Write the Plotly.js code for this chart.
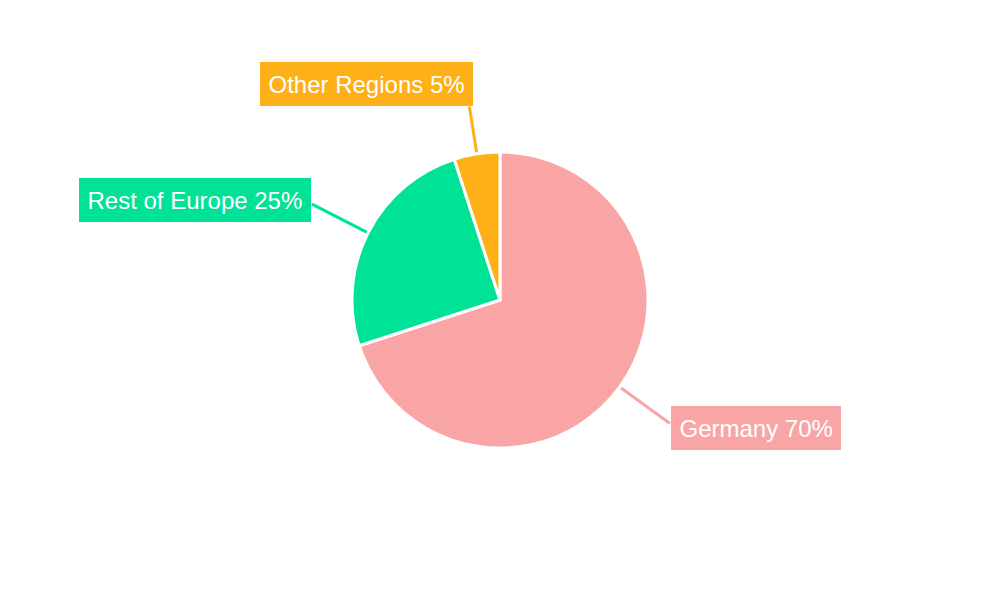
<!DOCTYPE html>
<html>
<head>
<meta charset="utf-8">
<script src="https://cdn.plot.ly/plotly-3.0.1.min.js"></script>
<style>html,body{margin:0;padding:0;background:#fff;}#chart{width:1000px;height:600px;}</style>
</head>
<body>
<div id="chart"></div>
<script>
const regions = ["Germany", "Rest of Europe", "Other Regions"];
const shares = [70, 25, 5];
const colors = ["#F9A5A6", "#00E396", "#FEB019"];

// layout constants (pixels)
const W = 1000, H = 600;
const domainY = [0.2533, 0.7467];
const cx = W / 2, cy = H * (1 - (domainY[0] + domainY[1]) / 2);
const R = Math.min(W, H * (domainY[1] - domainY[0])) / 2;
const leaderLen = [62, 63, 48];
const labelPos = [[756, 427.5], [195, 200], [366, 84]];

const total = shares.reduce((a, b) => a + b, 0);
let cum = 0;
const shapes = [], annotations = [];
shares.forEach((v, i) => {
  const mid = (cum + v / 2) / total * 2 * Math.PI;
  cum += v;
  const sx = Math.sin(mid), sy = -Math.cos(mid);
  const x0 = cx + R * sx, y0 = cy + R * sy;
  const x1 = cx + (R + leaderLen[i]) * sx, y1 = cy + (R + leaderLen[i]) * sy;
  shapes.push({
    type: 'line', xref: 'paper', yref: 'paper',
    x0: x0 / W, y0: 1 - y0 / H, x1: x1 / W, y1: 1 - y1 / H,
    line: {color: colors[i], width: 3}, layer: 'below'
  });
  annotations.push({
    xref: 'paper', yref: 'paper',
    x: labelPos[i][0] / W, y: 1 - labelPos[i][1] / H,
    xanchor: 'center', yanchor: 'middle',
    text: regions[i] + ' ' + v + '%',
    showarrow: false,
    bgcolor: colors[i], borderpad: 7.5, borderwidth: 1, bordercolor: colors[i],
    font: {family: 'Liberation Sans, Arial, sans-serif', size: 24, color: '#ffffff'}
  });
});

const data = [{
  type: 'pie',
  labels: regions,
  values: shares,
  sort: false,
  direction: 'clockwise',
  rotation: 0,
  textinfo: 'none',
  hoverinfo: 'label+percent',
  marker: {colors: colors, line: {color: '#ffffff', width: 3}},
  domain: {x: [0, 1], y: domainY},
  showlegend: false
}];

const layout = {
  width: W, height: H,
  margin: {l: 0, r: 0, t: 0, b: 0},
  paper_bgcolor: '#ffffff',
  plot_bgcolor: '#ffffff',
  showlegend: false,
  shapes: shapes,
  annotations: annotations
};

Plotly.newPlot('chart', data, layout, {displayModeBar: false});
</script>
</body>
</html>
